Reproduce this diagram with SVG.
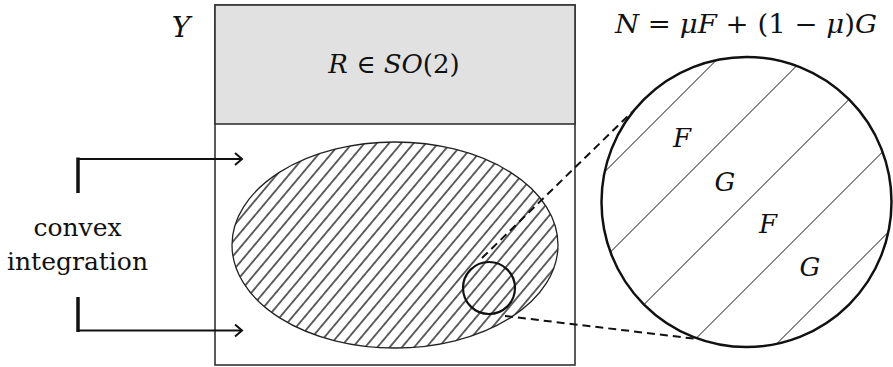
<svg xmlns="http://www.w3.org/2000/svg" width="893" height="367" viewBox="0 0 893 367">
  <style>
    text { font-family: 'DejaVu Serif', serif; fill: #111; }
    .i { font-style: italic; }
    .box { fill: #ffffff; stroke: #333; stroke-width: 1.6; }
    .gray { fill: #e1e1e1; stroke: #333; stroke-width: 1.6; }
    .thin { stroke: #111; stroke-width: 1; fill: none; }
    .dash { stroke: #111; stroke-width: 2; stroke-dasharray: 8 5; fill: none; }
    .arr { stroke: #111; stroke-width: 2; fill: none; }
    .bar { stroke: #111; stroke-width: 3.5; fill: none; }
  </style>
  <defs>
    <pattern id="hatch" patternUnits="userSpaceOnUse" width="9.4" height="10" patternTransform="rotate(40)">
      <line x1="4.7" y1="-1" x2="4.7" y2="11" stroke="#111" stroke-width="1.3"/>
    </pattern>
    <marker id="chev" markerWidth="12" markerHeight="14" refX="9" refY="7" orient="auto" markerUnits="userSpaceOnUse">
      <path d="M2,1 L9,7 L2,13" fill="none" stroke="#111" stroke-width="2"/>
    </marker>
  </defs>

  <g id="Y-label">
    <text class="i" x="181" y="37" font-size="28" text-anchor="middle">Y</text>
  </g>

  <g id="space-box">
    <rect class="box" x="215" y="5" width="360" height="360"/>
    <rect class="gray" x="215" y="5" width="360" height="119"/>
    <text x="394" y="73" font-size="26" text-anchor="middle"><tspan class="i">R</tspan> ∈ <tspan class="i">SO</tspan>(2)</text>
  </g>

  <g id="hatched-set">
    <ellipse cx="395" cy="245" rx="163" ry="103" fill="url(#hatch)" stroke="#222" stroke-width="1.3"/>
  </g>

  <g id="zoom-circle">
    <circle cx="489" cy="288" r="26" fill="none" stroke="#111" stroke-width="2.2"/>
  </g>

  <g id="laminate">
    <circle cx="746.5" cy="202" r="145" fill="#fff" stroke="#111" stroke-width="2.5"/>
    <line class="thin" x1="604.6" y1="171.9" x2="716.4" y2="60.1"/>
    <line class="thin" x1="610.4" y1="252.1" x2="796.6" y2="65.9"/>
    <line class="thin" x1="644" y1="304.5" x2="849" y2="99.5"/>
    <line class="thin" x1="696.4" y1="338.1" x2="882.6" y2="151.9"/>
    <line class="thin" x1="776.6" y1="343.9" x2="888.4" y2="232.1"/>
    <text class="i" x="682" y="147" font-size="26" text-anchor="middle">F</text>
    <text class="i" x="725" y="191" font-size="26" text-anchor="middle">G</text>
    <text class="i" x="768" y="233" font-size="26" text-anchor="middle">F</text>
    <text class="i" x="810" y="276" font-size="26" text-anchor="middle">G</text>
  </g>

  <g id="equation">
    <text x="746" y="33" font-size="26" text-anchor="middle" textLength="262" lengthAdjust="spacingAndGlyphs"><tspan class="i">N</tspan> = <tspan class="i">μF</tspan> + (1 − <tspan class="i">μ</tspan>)<tspan class="i">G</tspan></text>
  </g>

  <g id="convex-label">
    <text x="77.5" y="236" font-size="25" text-anchor="middle">convex</text>
    <text x="77.5" y="270" font-size="25" text-anchor="middle">integration</text>
  </g>

  <g id="connectors">
    <line class="bar" x1="78" y1="157.5" x2="78" y2="193"/>
    <line class="arr" x1="77" y1="159" x2="242" y2="159" marker-end="url(#chev)"/>
    <line class="bar" x1="78" y1="297" x2="78" y2="332"/>
    <line class="arr" x1="77" y1="330.5" x2="242" y2="330.5" marker-end="url(#chev)"/>
    <line class="dash" x1="482" y1="258" x2="632" y2="112"/>
    <line class="dash" x1="505" y1="316" x2="697" y2="339"/>
  </g>
</svg>
